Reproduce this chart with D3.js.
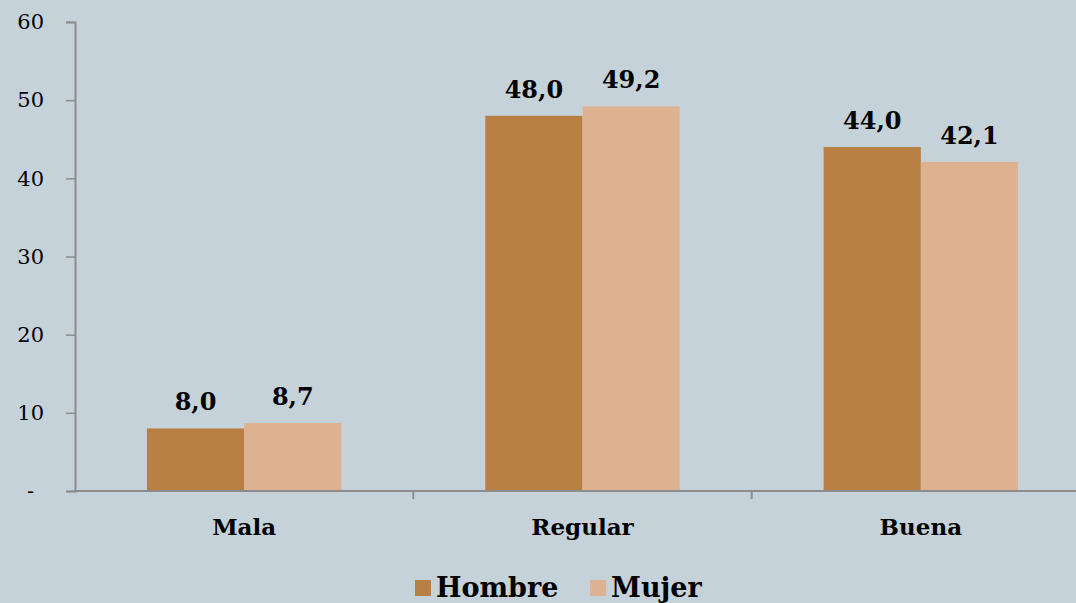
<!DOCTYPE html>
<html>
<head>
<meta charset="utf-8">
<script src="https://cdn.jsdelivr.net/npm/d3@7"></script>
<style>
  html, body { margin: 0; padding: 0; background: #c6d2d9; }
  svg { display: block; }
  text { font-family: "DejaVu Serif", "Liberation Serif", serif; fill: #000; }
</style>
</head>
<body>
<svg id="chart" width="1076" height="603"></svg>
<script>
// Self-rated condition by sex (%)
const categories = ["Mala", "Regular", "Buena"];
const seriesNames = ["Hombre", "Mujer"];
const hombre = [8.0, 48.0, 44.0];
const mujer = [8.7, 49.2, 42.1];
const yTicks = [0, 10, 20, 30, 40, 50, 60];
const colors = ["#b77f42", "#ddb291"];

const svg = d3.select("#chart");
const x0 = 75, x1 = 1090, yTop = 22, yBottom = 491;

const x = d3.scaleBand().domain(categories).range([x0, x1]).paddingInner(0).paddingOuter(0);
const xs = d3.scaleBand().domain(seriesNames).range([0, x.bandwidth()]).paddingInner(0).paddingOuter(0.74);
const y = d3.scaleLinear().domain([0, 60]).range([yBottom, yTop]);

const fmt = v => v.toFixed(1).replace(".", ",");

// Y axis
const yAxis = svg.append("g").attr("transform", `translate(${x0},0)`)
  .call(d3.axisLeft(y).tickValues(yTicks).tickSize(9).tickPadding(22)
    .tickFormat(d => d === 0 ? "-" : d));
yAxis.select(".domain").attr("stroke", "#8c8c8c").attr("stroke-width", 2);
yAxis.selectAll(".tick line").attr("stroke", "#8c8c8c").attr("stroke-width", 1.5);
yAxis.selectAll(".tick text").attr("font-size", 21).attr("fill", "#000")
  .attr("dx", d => d === 0 ? -10 : 0);

// Bars
const rows = categories.map((c, i) => ({ cat: c, vals: [hombre[i], mujer[i]] }));
const groups = svg.append("g").selectAll("g").data(rows).join("g")
  .attr("transform", d => `translate(${x(d.cat)},0)`);

groups.selectAll("rect").data(d => d.vals.map((v, j) => ({ name: seriesNames[j], v, j })))
  .join("rect")
  .attr("x", d => xs(d.name))
  .attr("width", xs.bandwidth())
  .attr("y", d => y(d.v))
  .attr("height", d => y(0) - y(d.v))
  .attr("fill", d => colors[d.j]);

groups.selectAll("text.val").data(d => d.vals.map((v, j) => ({ name: seriesNames[j], v, j })))
  .join("text")
  .attr("class", "val")
  .attr("x", d => xs(d.name) + xs.bandwidth() / 2)
  .attr("y", d => y(d.v) - 18)
  .attr("text-anchor", "middle")
  .attr("font-size", 24)
  .attr("font-weight", "bold")
  .text(d => fmt(d.v));

// X axis
const xAxisG = svg.append("g");
xAxisG.append("line").attr("x1", x0).attr("x2", 1076).attr("y1", yBottom).attr("y2", yBottom)
  .attr("stroke", "#8c8c8c").attr("stroke-width", 2);
xAxisG.selectAll("line.tk").data(categories.slice(1)).join("line")
  .attr("class", "tk")
  .attr("x1", d => x(d)).attr("x2", d => x(d))
  .attr("y1", yBottom).attr("y2", yBottom + 8)
  .attr("stroke", "#8c8c8c").attr("stroke-width", 2);
xAxisG.selectAll("text").data(categories).join("text")
  .attr("x", d => x(d) + x.bandwidth() / 2)
  .attr("y", 535)
  .attr("text-anchor", "middle")
  .attr("font-size", 23)
  .attr("font-weight", "bold")
  .text(d => d);

// Legend
const legend = svg.append("g");
const legendItems = [{ name: "Hombre", x: 415 }, { name: "Mujer", x: 590 }];
legendItems.forEach((it, i) => {
  legend.append("rect").attr("x", it.x).attr("y", 580).attr("width", 16).attr("height", 16).attr("fill", colors[i]);
  legend.append("text").attr("x", it.x + 21).attr("y", 597)
    .attr("font-size", 27).attr("font-weight", "bold").text(it.name);
});
</script>
</body>
</html>
